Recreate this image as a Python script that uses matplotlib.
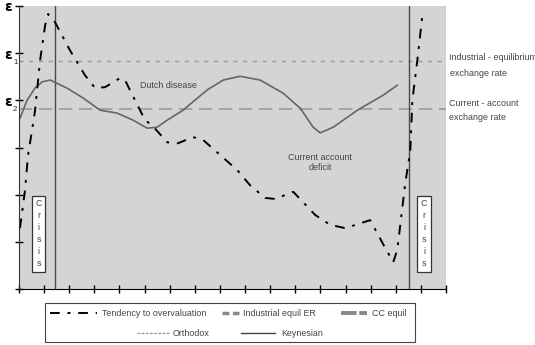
import matplotlib
matplotlib.use("Agg")
import matplotlib.pyplot as plt
from matplotlib.lines import Line2D
from matplotlib.patches import Rectangle

plt.rcParams["font.family"] = ["Liberation Sans", "DejaVu Sans"]

# tendency to overvaluation (dash-dot black)
tend_x = [0.04, 0.24, 0.36, 0.52, 0.64, 0.84, 1.04, 1.16, 1.43, 2.03, 2.63, 3.03, 3.43, 4.02, 4.22,
          4.62, 5.02, 5.30, 5.90, 6.33, 6.93, 7.33, 8.01, 8.69, 9.20, 9.80, 10.20, 10.92, 11.79,
          12.39, 12.99, 13.98, 14.58, 14.90, 15.06, 15.38, 15.58, 15.66, 15.86, 16.06]
tend_y = [1.29, 2.10, 2.84, 3.37, 3.79, 4.85, 5.59, 5.83, 5.66, 5.06, 4.53, 4.26, 4.28, 4.47, 4.43,
          4.00, 3.58, 3.47, 3.11, 3.09, 3.22, 3.16, 2.84, 2.52, 2.20, 1.93, 1.91, 2.06, 1.57,
          1.36, 1.29, 1.46, 0.87, 0.57, 0.83, 2.25, 2.94, 4.00, 4.85, 5.81]

# wavy exchange rate curve (solid grey)
wave_x = [0.04, 0.32, 0.64, 0.92, 1.24, 1.91, 2.55, 3.23, 3.90, 4.54, 5.10, 5.50, 5.90, 6.53,
          7.49, 8.13, 8.80, 9.60, 10.52, 11.20, 11.71, 11.99, 12.51, 13.47, 14.50, 15.06]
wave_y = [3.62, 4.00, 4.26, 4.39, 4.43, 4.26, 4.05, 3.79, 3.73, 3.58, 3.41, 3.43, 3.58, 3.79,
          4.22, 4.43, 4.51, 4.43, 4.15, 3.83, 3.43, 3.31, 3.43, 3.79, 4.11, 4.32]

industrial_level = 4.83
cc_level = 3.81
keynes_x = [1.43, 15.54]
crisis_x = [0.78, 16.13]

legend_row1 = ["Tendency to overvaluation", "Industrial equil ER", "CC equil"]
legend_row2 = ["Orthodox", "Keynesian"]

TXT = "#444444"
FS = 6.4

fig = plt.figure(figsize=(5.35, 3.45), dpi=100)
ax = fig.add_axes([19/535, 1-289/345, 427/535, 283/345])
ax.set_facecolor("#d3d4d6")
ax.set_xlim(0, 17)
ax.set_ylim(0, 6)

ax.axhline(industrial_level, color="#9a9a9a", lw=1, ls=(0, (3, 4)))
ax.axhline(cc_level, color="#9a9a9a", lw=1.2, ls=(0, (8, 4)))
for kx in keynes_x:
    ax.axvline(kx, color="#4a4a4a", lw=1)
ax.plot(wave_x, wave_y, color="#666666", lw=1.2)
ax.plot(tend_x, tend_y, color="black", lw=1.4, ls=(0, (5, 4, 1.5, 4)))

for cx in crisis_x:
    ax.text(cx, 1.17, "C\nr\ni\ns\ni\ns", ha="center", va="center", fontsize=FS,
            color=TXT, linespacing=1.42,
            bbox=dict(boxstyle="square,pad=0.4", fc="white", ec="#333333", lw=0.9))

ax.text(5.95, 4.32, "Dutch disease", ha="center", va="center", fontsize=FS, color=TXT)
ax.text(12.0, 2.68, "Current account\ndeficit", ha="center", va="center", fontsize=FS,
        color=TXT, linespacing=1.2)

ax.set_xticks(range(0, 18))
ax.set_yticks(range(0, 7))
ax.set_xticklabels([])
ax.set_yticklabels([])
ax.tick_params(direction="inout", length=6, width=1, color="black")
for s in ["top", "right"]:
    ax.spines[s].set_visible(False)
ax.spines["left"].set_color("#333333")
ax.spines["bottom"].set_color("black")

# epsilon labels on the y axis
ytr = ax.get_yaxis_transform()
for yv, sub in [(6, ""), (5, "1"), (4, "2")]:
    ax.text(-0.016, yv - 0.03, "ε", transform=ytr, ha="right", va="center", fontsize=10,
            fontweight="bold", family="DejaVu Sans", clip_on=False)
    if sub:
        ax.text(-0.014, yv - 0.19, sub, transform=ytr, ha="left", va="center", fontsize=5.5,
                color="#222222", clip_on=False)

fig.text(449/535, 1-57/345, "Industrial - equilibrium", fontsize=FS, color=TXT, va="center")
fig.text(450/535, 1-73/345, "exchange rate", fontsize=FS, color=TXT, va="center")
fig.text(449/535, 1-103/345, "Current - account", fontsize=FS, color=TXT, va="center")
fig.text(449/535, 1-118/345, "exchange rate", fontsize=FS, color=TXT, va="center")

# legend drawn by hand (two rows inside one frame)
def fx(px):
    return px / 535

def fy(py):
    return 1 - py / 345

row1_handles = [(50, 97, dict(color="black", lw=1.4, ls=(0, (5, 4, 1.5, 4)))),
                (222, 239, dict(color="#888888", lw=2.5, ls=(0, (2, 1)))),
                (341, 367, dict(color="#888888", lw=2.8, ls=(0, (4, 0.7))))]
row1_text_x = [102, 243, 372]
row2_handles = [(137, 169, dict(color="#999999", lw=1, ls=(0, (2, 1)))),
                (241, 275, dict(color="#444444", lw=1))]
row2_text_x = [173, 281]

for (x0, x1, st), tx, lab in zip(row1_handles, row1_text_x, legend_row1):
    fig.add_artist(Line2D([fx(x0), fx(x1)], [fy(313), fy(313)], transform=fig.transFigure, **st))
    fig.text(fx(tx), fy(313), lab, fontsize=FS, color=TXT, va="center")
for (x0, x1, st), tx, lab in zip(row2_handles, row2_text_x, legend_row2):
    fig.add_artist(Line2D([fx(x0), fx(x1)], [fy(333), fy(333)], transform=fig.transFigure, **st))
    fig.text(fx(tx), fy(333), lab, fontsize=FS, color=TXT, va="center")

fig.patches.append(Rectangle((fx(45), fy(342)), 370/535, 39/345, transform=fig.transFigure,
                             fill=False, ec="#444444", lw=0.8))

fig.savefig("out.png", dpi=100)
